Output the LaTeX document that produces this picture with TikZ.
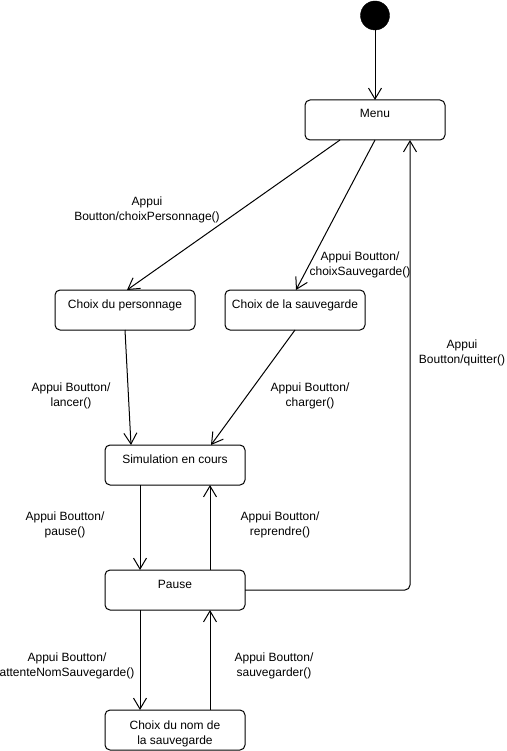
\documentclass[tikz,border=0pt]{standalone}
\usepackage{fontspec}
\setmainfont{Liberation Sans}
\usetikzlibrary{arrows.meta,calc}
\begin{document}
\begin{tikzpicture}[x=1pt,y=-1pt,
  font=\fontsize{12}{14.5}\selectfont,
  state/.style={draw, line width=1pt, rounded corners=5pt, minimum width=140pt,
    inner xsep=2pt, inner ysep=0pt, outer sep=0pt,
    text height=18pt, text depth=22pt, align=center},
  initial/.style={circle, fill=black, draw=black, minimum size=29pt, inner sep=0pt, outer sep=0pt},
  trans/.style={draw, line width=1pt, -{Straight Barb[length=11pt,width=13pt]}},
  guard/.style={align=center, inner sep=0pt},
]
\useasboundingbox (0,0) rectangle (506,751);

% states
\node[initial] (start) at (375,15.5) {};
\node[state] (menu)  at (375,120) {Menu};
\node[state] (perso) at (125,310) {Choix du personnage};
\node[state] (sauv)  at (295,310) {Choix de la sauvegarde};
\node[state] (simu)  at (175,465) {Simulation en cours};
\node[state] (pause) at (175,590) {Pause};
% two-line state: the box baseline is the last line's, so the height spans both lines
\node[state, text height=34pt, text depth=6pt] (nom) at (175,730) {Choix du nom de\\la sauvegarde};

% transitions
\draw[trans] (start.south) -- (menu.north);
\draw[trans] ($(menu.south)+(-35,0)$) -- ($(perso.north)+(2,0)$);
\draw[trans] (menu.south) -- ($(sauv.north)+(1,0)$);
\draw[trans] (perso.south) -- ($(simu.north west)+(26,0)$);
\draw[trans] (sauv.south) -- ($(simu.north)+(36,0)$);
\draw[trans] ($(simu.south)+(-35,0)$) -- ($(pause.north)+(-35,0)$);
\draw[trans] ($(pause.north)+(35,0)$) -- ($(simu.south)+(35,0)$);
\draw[trans] ($(pause.south)+(-35,0)$) -- ($(nom.north)+(-35,0)$);
\draw[trans] ($(nom.north)+(35,0)$) -- ($(pause.south)+(35,0)$);
\draw[trans, rounded corners=5pt] (pause.east) -| ($(menu.south)+(35,0)$);

% transition labels
\node[guard] (l1) at (147,210) {Appui\\Boutton/choixPersonnage()};
\node[guard] (l2) at (360,265) {Appui Boutton/\\choixSauvegarde()};
\node[guard] (l3) at (71,396)  {Appui Boutton/\\lancer()};
\node[guard] (l4) at (310,396) {Appui Boutton/\\charger()};
\node[guard] (l5) at (65,525)  {Appui Boutton/\\pause()};
\node[guard] (l6) at (280,525) {Appui Boutton/\\reprendre()};
\node[guard] (l7) at (67,666)  {Appui Boutton/\\attenteNomSauvegarde()};
\node[guard] (l8) at (274,666) {Appui Boutton/\\sauvegarder()};
\node[guard] (l9) at (462,353) {Appui\\Boutton/quitter()};
\end{tikzpicture}
\end{document}
